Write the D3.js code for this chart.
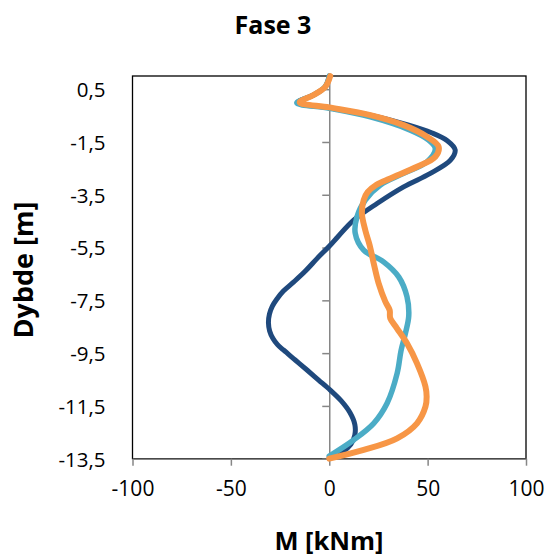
<!DOCTYPE html>
<html>
<head>
<meta charset="utf-8">
<script src="https://cdn.jsdelivr.net/npm/d3@7/dist/d3.min.js"></script>
<style>
  html, body { margin: 0; padding: 0; background: #fff; }
  svg { display: block; font-family: "Open Sans", "DejaVu Sans", sans-serif; }
</style>
</head>
<body>
<svg id="chart" width="550" height="556"></svg>
<script>
// Bending moment M [kNm] versus depth [m], three load cases
const xTicks = [-100, -50, 0, 50, 100];
const yTicks = [0.5, -1.5, -3.5, -5.5, -7.5, -9.5, -11.5, -13.5];

const depthBlue  = [1, 0.6, 0.28, 0, -0.2, -0.5, -0.85, -1.15, -1.45, -1.8, -2.19, -2.69, -3.2, -3.83, -4.46, -5.08, -5.45, -5.9, -6.38, -6.8, -7.15, -7.45, -7.72, -8.02, -8.35, -8.66, -8.95, -9.18, -9.38, -9.76, -10.14, -10.52, -10.9, -11.3, -11.75, -12.2, -12.6, -12.95, -13.25, -13.45];
const momentBlue = [0, -2, -8, -16, 0, 22, 40, 52, 60, 64, 61.6, 51.4, 37.8, 24.3, 12.4, 4.5, 0, -6, -12, -18, -23.3, -26.6, -28.9, -30.4, -30.9, -30.3, -28.6, -26.3, -23.3, -17.3, -11.3, -5.4, 0.5, 6, 10.5, 13, 13, 11, 6.5, 0];

const depthCyan  = [1, 0.6, 0.28, -0.02, -0.22, -0.55, -1.05, -1.4, -1.75, -2.25, -2.69, -3.13, -3.7, -4.33, -4.96, -5.6, -6.04, -6.61, -7.36, -8.1, -8.75, -9.4, -10.27, -11.4, -12.16, -12.79, -13.4];
const momentCyan = [0, -2, -8, -16.5, 0, 20.9, 41.2, 50, 53.9, 49.7, 37.8, 26, 18.3, 14.1, 13.2, 17.5, 27.6, 35.3, 39.5, 40.4, 38.7, 36.5, 34.5, 29.4, 22.6, 12.4, 0];

const depthOrange  = [1, 0.59, 0.28, 0, -0.19, -0.48, -0.86, -1.3, -1.68, -2.06, -2.44, -2.88, -3.12, -3.4, -3.7, -4.2, -4.84, -5.4, -6.1, -6.86, -7.55, -7.87, -8.18, -8.56, -9.13, -9.89, -10.77, -11.15, -11.53, -12.16, -12.73, -13.17, -13.5];
const momentOrange = [0.5, -2, -8, -15, 0, 20.9, 37.8, 49.7, 55.6, 53.9, 44.6, 31, 24, 19.5, 17.5, 16.6, 18.3, 20.5, 22.6, 25.1, 28.5, 30.7, 31, 34.4, 39.5, 44.6, 48.9, 49.5, 48.9, 44.6, 34.5, 17.5, 0];

const series = [
  { name: "blue",   depth: depthBlue,   moment: momentBlue,   color: "#1f497d", width: 5 },
  { name: "cyan",   depth: depthCyan,   moment: momentCyan,   color: "#4bacc6", width: 5.5 },
  { name: "orange", depth: depthOrange, moment: momentOrange, color: "#f79646", width: 6 }
];

const plot = { left: 132.5, right: 526, top: 76, bottom: 458.7 };

const svg = d3.select("#chart");

const x = d3.scaleLinear().domain([-100, 100]).range([plot.left, plot.right]);
const y = d3.scaleLinear().domain([-13.5, 1]).range([plot.bottom, plot.top]);

const fmt = d => d3.format(".1f")(d).replace(".", ",").replace("−", "-");

// plot area frame
svg.append("rect")
  .attr("x", plot.left).attr("y", plot.top)
  .attr("width", plot.right - plot.left).attr("height", plot.bottom - plot.top)
  .attr("fill", "none").attr("stroke", "#000").attr("stroke-width", 1.3);

// vertical axis through M = 0 (tick marks only)
const yAxisZero = svg.append("g")
  .attr("transform", `translate(${x(0)},0)`)
  .call(d3.axisLeft(y).tickValues(yTicks).tickSize(7).tickSizeOuter(0).tickFormat(""));
yAxisZero.select(".domain").attr("stroke", "#868686").attr("stroke-width", 1.5);
yAxisZero.selectAll(".tick line").attr("stroke", "#868686").attr("stroke-width", 1.5);

// depth labels at the left edge of the plot
const yLabels = svg.append("g")
  .attr("transform", `translate(${plot.left},0)`)
  .call(d3.axisLeft(y).tickValues(yTicks).tickSize(0).tickPadding(27).tickFormat(fmt));
yLabels.select(".domain").remove();
yLabels.selectAll("text")
  .attr("font-family", "'Open Sans', sans-serif")
  .attr("font-size", 20.5).attr("fill", "#000").attr("dy", "0.36em");

// horizontal axis
const xAxis = svg.append("g")
  .attr("transform", `translate(0,${plot.bottom})`)
  .call(d3.axisBottom(x).tickValues(xTicks).tickSize(7).tickSizeOuter(0).tickPadding(15).tickFormat(d => d3.format("d")(d).replace("−", "-")));
xAxis.select(".domain").attr("stroke", "#868686").attr("stroke-width", 1.5);
xAxis.selectAll(".tick line").attr("stroke", "#868686").attr("stroke-width", 1.5);
xAxis.selectAll("text")
  .attr("font-family", "'Open Sans', sans-serif")
  .attr("font-size", 21).attr("fill", "#000");

// moment curves
const line = d3.line()
  .x(d => x(d[0]))
  .y(d => y(d[1]))
  .curve(d3.curveCatmullRom.alpha(0.5));

svg.append("g").selectAll("path")
  .data(series)
  .join("path")
  .attr("d", s => line(s.moment.map((m, i) => [m, s.depth[i]])))
  .attr("fill", "none")
  .attr("stroke", s => s.color)
  .attr("stroke-width", s => s.width)
  .attr("stroke-linecap", "round")
  .attr("stroke-linejoin", "round");

// titles
svg.append("text")
  .attr("x", 273).attr("y", 34)
  .attr("text-anchor", "middle")
  .attr("font-size", 25).attr("font-weight", "bold")
  .text("Fase 3");

svg.append("text")
  .attr("x", 329).attr("y", 550)
  .attr("text-anchor", "middle")
  .attr("font-size", 25.5).attr("font-weight", "bold")
  .text("M [kNm]");

svg.append("text")
  .attr("transform", "translate(33,270) rotate(-90)")
  .attr("text-anchor", "middle")
  .attr("font-size", 27).attr("font-weight", "bold")
  .text("Dybde [m]");
</script>
</body>
</html>
